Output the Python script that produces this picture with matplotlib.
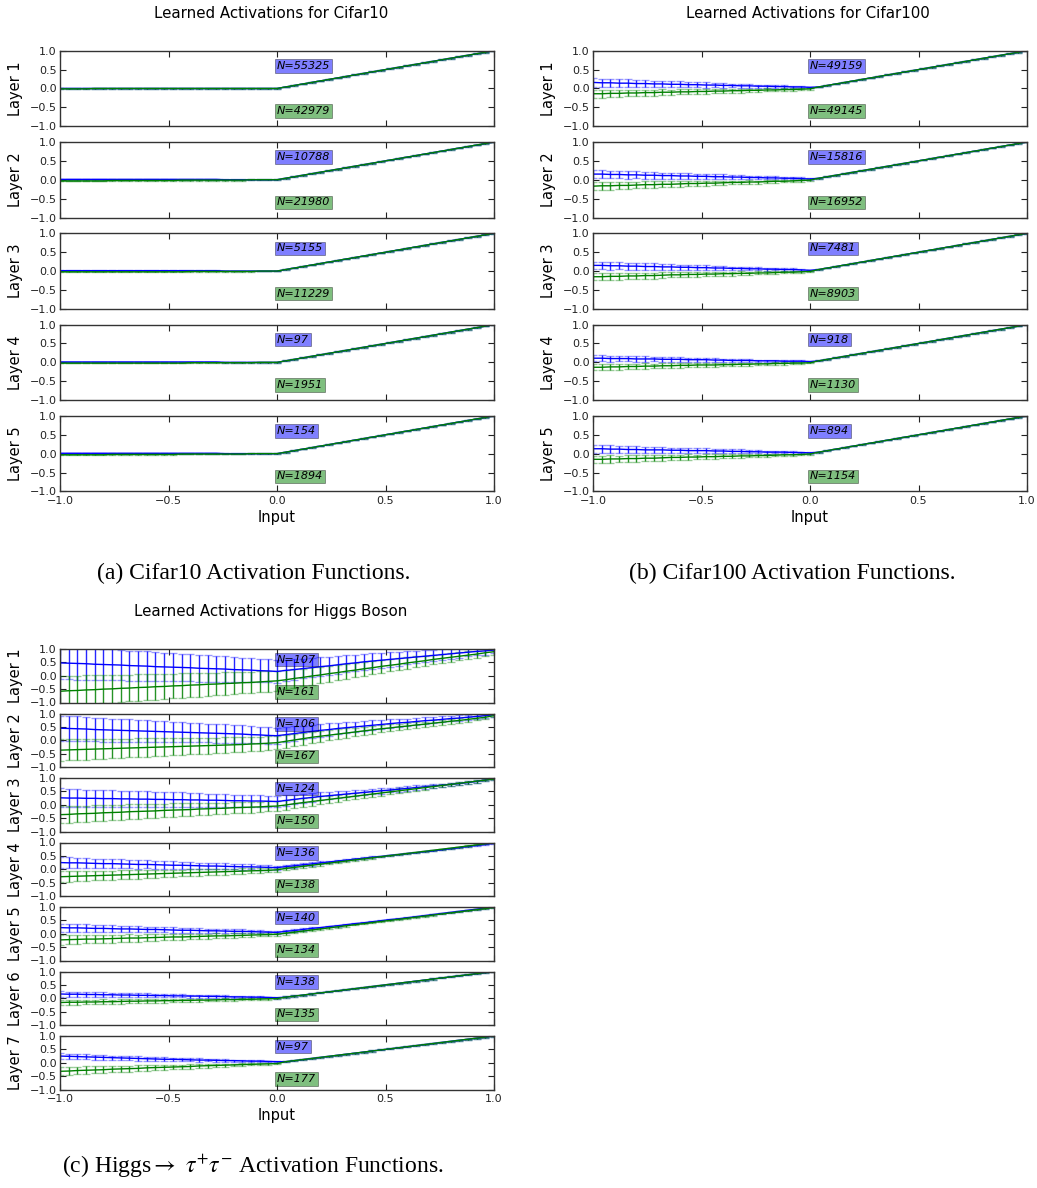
import numpy as np
import matplotlib
matplotlib.use("Agg")
import matplotlib.pyplot as plt

# ---------------- data ----------------
# sampled inputs of the learned activation functions
x_points = np.round(np.linspace(-1.0, 1.0, 51), 2)

# positive branch (identity-like part, x = 0.04 ... 1.00)
pos_branch = [0.04, 0.08, 0.12, 0.16, 0.20, 0.24, 0.28, 0.32, 0.36, 0.40, 0.44, 0.48, 0.52,
              0.56, 0.60, 0.64, 0.68, 0.72, 0.76, 0.80, 0.84, 0.88, 0.92, 0.96, 1.00]

y_ticks = [-1.0, -0.5, 0.0, 0.5, 1.0]
x_ticks = [-1.0, -0.5, 0.0, 0.5, 1.0]

# ---- Cifar10 ----
cifar10_n_blue = [55325, 10788, 5155, 97, 154]
cifar10_n_green = [42979, 21980, 11229, 1951, 1894]
cifar10_err = 0.01
cifar10_blue_neg = [
    [0.00, 0.00, 0.00, 0.00, 0.00, 0.00, 0.00, 0.00, 0.00, 0.00, 0.00, 0.00, 0.00,
     0.00, 0.00, 0.00, 0.00, 0.00, 0.00, 0.00, 0.00, 0.00, 0.00, 0.00, 0.00, 0.00],
    [0.01, 0.01, 0.01, 0.01, 0.01, 0.01, 0.01, 0.01, 0.01, 0.01, 0.01, 0.01, 0.01,
     0.01, 0.01, 0.01, 0.01, 0.01, 0.01, 0.00, 0.00, 0.00, 0.00, 0.00, 0.00, 0.00],
    [0.01, 0.01, 0.01, 0.01, 0.01, 0.01, 0.01, 0.01, 0.01, 0.01, 0.01, 0.01, 0.01,
     0.01, 0.01, 0.01, 0.01, 0.01, 0.01, 0.00, 0.00, 0.00, 0.00, 0.00, 0.00, 0.00],
    [0.01, 0.01, 0.01, 0.01, 0.01, 0.01, 0.01, 0.01, 0.01, 0.01, 0.01, 0.01, 0.01,
     0.01, 0.01, 0.01, 0.01, 0.01, 0.01, 0.00, 0.00, 0.00, 0.00, 0.00, 0.00, 0.00],
    [0.01, 0.01, 0.01, 0.01, 0.01, 0.01, 0.01, 0.01, 0.01, 0.01, 0.01, 0.01, 0.01,
     0.01, 0.01, 0.01, 0.01, 0.01, 0.01, 0.00, 0.00, 0.00, 0.00, 0.00, 0.00, 0.00],
]
cifar10_green_neg = [
    [-0.01, -0.01, -0.01, -0.01, 0.00, 0.00, 0.00, 0.00, 0.00, 0.00, 0.00, 0.00, 0.00,
     0.00, 0.00, 0.00, 0.00, 0.00, 0.00, 0.00, 0.00, 0.00, 0.00, 0.00, 0.00, 0.00],
    [-0.03, -0.03, -0.03, -0.03, -0.03, -0.03, -0.02, -0.02, -0.02, -0.02, -0.02, -0.02, -0.02,
     -0.02, -0.01, -0.01, -0.01, -0.01, -0.01, -0.01, -0.01, -0.01, 0.00, 0.00, 0.00, 0.00],
    [-0.02, -0.02, -0.02, -0.02, -0.02, -0.02, -0.02, -0.02, -0.02, -0.02, -0.02, -0.02, -0.02,
     -0.02, -0.02, -0.01, -0.01, -0.01, -0.01, -0.01, -0.01, -0.01, -0.01, 0.00, 0.00, 0.00],
    [-0.02, -0.02, -0.02, -0.02, -0.02, -0.02, -0.02, -0.02, -0.02, -0.02, -0.02, -0.02, -0.02,
     -0.02, -0.02, -0.01, -0.01, -0.01, -0.01, -0.01, -0.01, -0.01, -0.01, 0.00, 0.00, 0.00],
    [-0.03, -0.03, -0.03, -0.03, -0.03, -0.03, -0.02, -0.02, -0.02, -0.02, -0.02, -0.02, -0.02,
     -0.02, -0.01, -0.01, -0.01, -0.01, -0.01, -0.01, -0.01, -0.01, 0.00, 0.00, 0.00, 0.00],
]

# ---- Cifar100 ----
cifar100_n_blue = [49159, 15816, 7481, 918, 894]
cifar100_n_green = [49145, 16952, 8903, 1130, 1154]
cifar100_err_pos = 0.01
cifar100_blue_neg = [
    [0.16, 0.15, 0.15, 0.14, 0.14, 0.13, 0.13, 0.12, 0.12, 0.11, 0.11, 0.10, 0.10,
     0.09, 0.09, 0.08, 0.08, 0.07, 0.07, 0.06, 0.06, 0.05, 0.05, 0.04, 0.04, 0.03],
    [0.15, 0.15, 0.14, 0.14, 0.13, 0.13, 0.12, 0.12, 0.11, 0.11, 0.10, 0.10, 0.09,
     0.09, 0.08, 0.08, 0.07, 0.07, 0.06, 0.06, 0.05, 0.05, 0.04, 0.04, 0.03, 0.02],
    [0.15, 0.15, 0.14, 0.14, 0.13, 0.13, 0.12, 0.12, 0.11, 0.11, 0.10, 0.10, 0.09,
     0.09, 0.08, 0.08, 0.07, 0.07, 0.06, 0.06, 0.05, 0.05, 0.04, 0.04, 0.03, 0.02],
    [0.11, 0.11, 0.10, 0.10, 0.10, 0.09, 0.09, 0.09, 0.08, 0.08, 0.08, 0.07, 0.07,
     0.07, 0.06, 0.06, 0.05, 0.05, 0.05, 0.04, 0.04, 0.04, 0.03, 0.03, 0.03, 0.02],
    [0.13, 0.13, 0.12, 0.12, 0.11, 0.11, 0.10, 0.10, 0.10, 0.09, 0.09, 0.08, 0.08,
     0.08, 0.07, 0.07, 0.06, 0.06, 0.05, 0.05, 0.04, 0.04, 0.04, 0.03, 0.03, 0.02],
]
cifar100_green_neg = [
    [-0.14, -0.14, -0.13, -0.13, -0.12, -0.12, -0.11, -0.11, -0.10, -0.10, -0.09, -0.09, -0.08,
     -0.08, -0.07, -0.07, -0.06, -0.06, -0.05, -0.05, -0.04, -0.04, -0.03, -0.03, -0.02, -0.01],
    [-0.17, -0.16, -0.16, -0.15, -0.15, -0.14, -0.13, -0.13, -0.12, -0.12, -0.11, -0.10, -0.10,
     -0.09, -0.09, -0.08, -0.07, -0.07, -0.06, -0.06, -0.05, -0.04, -0.04, -0.03, -0.02, -0.01],
    [-0.15, -0.15, -0.14, -0.14, -0.13, -0.13, -0.12, -0.12, -0.11, -0.10, -0.10, -0.09, -0.09,
     -0.08, -0.08, -0.07, -0.07, -0.06, -0.06, -0.05, -0.05, -0.04, -0.03, -0.03, -0.02, -0.01],
    [-0.13, -0.13, -0.12, -0.12, -0.11, -0.11, -0.10, -0.10, -0.09, -0.09, -0.08, -0.08, -0.07,
     -0.07, -0.07, -0.06, -0.06, -0.05, -0.05, -0.04, -0.04, -0.03, -0.03, -0.02, -0.02, -0.01],
    [-0.15, -0.15, -0.14, -0.14, -0.13, -0.13, -0.12, -0.12, -0.11, -0.10, -0.10, -0.09, -0.09,
     -0.08, -0.08, -0.07, -0.07, -0.06, -0.06, -0.05, -0.05, -0.04, -0.03, -0.03, -0.02, -0.01],
]
cifar100_blue_err_neg = [
    [0.11, 0.11, 0.10, 0.10, 0.10, 0.09, 0.09, 0.09, 0.08, 0.08, 0.08, 0.07, 0.07,
     0.07, 0.06, 0.06, 0.05, 0.05, 0.05, 0.04, 0.04, 0.04, 0.03, 0.03, 0.03, 0.02],
    [0.11, 0.11, 0.10, 0.10, 0.10, 0.09, 0.09, 0.09, 0.08, 0.08, 0.08, 0.07, 0.07,
     0.07, 0.06, 0.06, 0.05, 0.05, 0.05, 0.04, 0.04, 0.04, 0.03, 0.03, 0.03, 0.02],
    [0.10, 0.10, 0.10, 0.09, 0.09, 0.09, 0.08, 0.08, 0.08, 0.07, 0.07, 0.07, 0.06,
     0.06, 0.06, 0.05, 0.05, 0.05, 0.04, 0.04, 0.04, 0.03, 0.03, 0.03, 0.02, 0.02],
    [0.08, 0.08, 0.08, 0.07, 0.07, 0.07, 0.07, 0.06, 0.06, 0.06, 0.06, 0.05, 0.05,
     0.05, 0.05, 0.04, 0.04, 0.04, 0.04, 0.03, 0.03, 0.03, 0.03, 0.02, 0.02, 0.02],
    [0.10, 0.10, 0.10, 0.09, 0.09, 0.09, 0.08, 0.08, 0.08, 0.07, 0.07, 0.07, 0.06,
     0.06, 0.06, 0.05, 0.05, 0.05, 0.04, 0.04, 0.04, 0.03, 0.03, 0.03, 0.02, 0.02],
]
cifar100_green_err_neg = [
    [0.10, 0.10, 0.10, 0.09, 0.09, 0.09, 0.08, 0.08, 0.08, 0.07, 0.07, 0.07, 0.06,
     0.06, 0.06, 0.05, 0.05, 0.05, 0.04, 0.04, 0.04, 0.03, 0.03, 0.03, 0.02, 0.02],
    [0.11, 0.11, 0.10, 0.10, 0.10, 0.09, 0.09, 0.09, 0.08, 0.08, 0.08, 0.07, 0.07,
     0.07, 0.06, 0.06, 0.05, 0.05, 0.05, 0.04, 0.04, 0.04, 0.03, 0.03, 0.03, 0.02],
    [0.10, 0.10, 0.10, 0.09, 0.09, 0.09, 0.08, 0.08, 0.08, 0.07, 0.07, 0.07, 0.06,
     0.06, 0.06, 0.05, 0.05, 0.05, 0.04, 0.04, 0.04, 0.03, 0.03, 0.03, 0.02, 0.02],
    [0.08, 0.08, 0.08, 0.07, 0.07, 0.07, 0.07, 0.06, 0.06, 0.06, 0.06, 0.05, 0.05,
     0.05, 0.05, 0.04, 0.04, 0.04, 0.04, 0.03, 0.03, 0.03, 0.03, 0.02, 0.02, 0.02],
    [0.10, 0.10, 0.10, 0.09, 0.09, 0.09, 0.08, 0.08, 0.08, 0.07, 0.07, 0.07, 0.06,
     0.06, 0.06, 0.05, 0.05, 0.05, 0.04, 0.04, 0.04, 0.03, 0.03, 0.03, 0.02, 0.02],
]

# ---- Higgs Boson ----
higgs_n_blue = [107, 106, 124, 136, 140, 138, 97]
higgs_n_green = [161, 167, 150, 138, 134, 135, 177]
higgs_blue_neg = [
    [0.48, 0.47, 0.46, 0.45, 0.43, 0.42, 0.41, 0.40, 0.38, 0.37, 0.36, 0.34, 0.33,
     0.32, 0.31, 0.30, 0.28, 0.27, 0.26, 0.25, 0.23, 0.22, 0.21, 0.19, 0.18, 0.16],
    [0.45, 0.44, 0.43, 0.42, 0.40, 0.39, 0.38, 0.37, 0.36, 0.35, 0.34, 0.33, 0.32,
     0.31, 0.30, 0.29, 0.28, 0.27, 0.26, 0.25, 0.24, 0.23, 0.21, 0.20, 0.18, 0.17],
    [0.26, 0.25, 0.25, 0.24, 0.24, 0.23, 0.23, 0.22, 0.22, 0.21, 0.21, 0.20, 0.20,
     0.19, 0.19, 0.18, 0.18, 0.17, 0.17, 0.16, 0.15, 0.15, 0.14, 0.14, 0.13, 0.12],
    [0.25, 0.24, 0.24, 0.23, 0.22, 0.21, 0.21, 0.20, 0.19, 0.18, 0.18, 0.17, 0.16,
     0.15, 0.15, 0.14, 0.13, 0.12, 0.12, 0.11, 0.10, 0.09, 0.09, 0.08, 0.07, 0.06],
    [0.23, 0.22, 0.22, 0.21, 0.20, 0.20, 0.19, 0.18, 0.18, 0.17, 0.16, 0.16, 0.15,
     0.14, 0.13, 0.13, 0.12, 0.11, 0.11, 0.10, 0.09, 0.09, 0.08, 0.07, 0.06, 0.05],
    [0.16, 0.15, 0.15, 0.14, 0.14, 0.13, 0.13, 0.12, 0.12, 0.11, 0.11, 0.10, 0.10,
     0.09, 0.09, 0.08, 0.08, 0.07, 0.07, 0.06, 0.05, 0.05, 0.04, 0.04, 0.03, 0.02],
    [0.25, 0.24, 0.23, 0.22, 0.21, 0.20, 0.19, 0.18, 0.17, 0.16, 0.15, 0.14, 0.13,
     0.13, 0.12, 0.11, 0.10, 0.10, 0.09, 0.08, 0.08, 0.07, 0.06, 0.06, 0.05, 0.04],
]
higgs_blue_pos = [
    [0.20, 0.23, 0.27, 0.30, 0.34, 0.37, 0.41, 0.45, 0.48, 0.52, 0.55, 0.58, 0.61,
     0.64, 0.67, 0.70, 0.73, 0.76, 0.79, 0.82, 0.85, 0.88, 0.91, 0.93, 0.96],
    [0.21, 0.25, 0.29, 0.33, 0.37, 0.40, 0.44, 0.47, 0.50, 0.53, 0.56, 0.59, 0.62,
     0.65, 0.67, 0.70, 0.73, 0.75, 0.78, 0.81, 0.83, 0.86, 0.89, 0.92, 0.95],
    [0.16, 0.20, 0.24, 0.27, 0.31, 0.34, 0.37, 0.40, 0.43, 0.46, 0.49, 0.52, 0.55,
     0.58, 0.61, 0.64, 0.67, 0.70, 0.73, 0.76, 0.79, 0.83, 0.87, 0.92, 0.97],
    [0.10, 0.13, 0.17, 0.20, 0.24, 0.27, 0.31, 0.34, 0.38, 0.41, 0.45, 0.48, 0.52,
     0.55, 0.59, 0.62, 0.66, 0.69, 0.73, 0.77, 0.81, 0.85, 0.89, 0.93, 0.97],
    [0.09, 0.12, 0.16, 0.20, 0.23, 0.27, 0.30, 0.34, 0.38, 0.41, 0.45, 0.49, 0.53,
     0.56, 0.60, 0.64, 0.68, 0.72, 0.76, 0.80, 0.84, 0.88, 0.92, 0.96, 1.00],
    pos_branch,
    pos_branch,
]
higgs_green_neg = [
    [-0.58, -0.56, -0.55, -0.53, -0.52, -0.50, -0.49, -0.47, -0.46, -0.44, -0.43, -0.41, -0.40,
     -0.38, -0.37, -0.35, -0.34, -0.32, -0.31, -0.29, -0.28, -0.26, -0.25, -0.23, -0.21, -0.19],
    [-0.37, -0.36, -0.35, -0.34, -0.33, -0.32, -0.31, -0.30, -0.29, -0.28, -0.27, -0.26, -0.25,
     -0.24, -0.23, -0.22, -0.21, -0.20, -0.19, -0.18, -0.17, -0.16, -0.14, -0.13, -0.11, -0.09],
    [-0.37, -0.36, -0.34, -0.33, -0.32, -0.30, -0.29, -0.28, -0.26, -0.25, -0.24, -0.23, -0.21,
     -0.20, -0.19, -0.18, -0.16, -0.15, -0.14, -0.13, -0.11, -0.10, -0.09, -0.08, -0.06, -0.05],
    [-0.28, -0.27, -0.26, -0.25, -0.24, -0.23, -0.22, -0.21, -0.20, -0.19, -0.18, -0.17, -0.16,
     -0.15, -0.14, -0.13, -0.12, -0.11, -0.10, -0.09, -0.08, -0.07, -0.06, -0.05, -0.04, -0.02],
    [-0.23, -0.22, -0.21, -0.20, -0.20, -0.19, -0.18, -0.17, -0.16, -0.16, -0.15, -0.14, -0.13,
     -0.12, -0.12, -0.11, -0.10, -0.09, -0.08, -0.08, -0.07, -0.06, -0.05, -0.04, -0.03, -0.02],
    [-0.16, -0.15, -0.15, -0.14, -0.14, -0.13, -0.13, -0.12, -0.11, -0.11, -0.10, -0.10, -0.09,
     -0.09, -0.08, -0.08, -0.07, -0.07, -0.06, -0.05, -0.05, -0.04, -0.04, -0.03, -0.02, -0.01],
    [-0.32, -0.31, -0.29, -0.28, -0.27, -0.26, -0.24, -0.23, -0.22, -0.21, -0.19, -0.18, -0.17,
     -0.16, -0.15, -0.14, -0.12, -0.11, -0.10, -0.09, -0.08, -0.07, -0.06, -0.05, -0.04, -0.03],
]
higgs_green_pos = [
    [-0.15, -0.10, -0.06, -0.01, 0.03, 0.08, 0.12, 0.17, 0.21, 0.26, 0.30, 0.35, 0.39,
     0.43, 0.48, 0.52, 0.56, 0.61, 0.65, 0.69, 0.73, 0.77, 0.81, 0.86, 0.90],
    [-0.04, 0.01, 0.06, 0.11, 0.15, 0.19, 0.23, 0.27, 0.31, 0.35, 0.39, 0.43, 0.46,
     0.50, 0.53, 0.57, 0.60, 0.64, 0.67, 0.71, 0.74, 0.78, 0.82, 0.86, 0.92],
    [-0.01, 0.04, 0.08, 0.12, 0.16, 0.20, 0.24, 0.28, 0.32, 0.36, 0.40, 0.44, 0.48,
     0.52, 0.56, 0.60, 0.64, 0.68, 0.72, 0.76, 0.80, 0.84, 0.88, 0.92, 0.96],
    [0.03, 0.07, 0.11, 0.15, 0.19, 0.23, 0.27, 0.31, 0.35, 0.39, 0.43, 0.47, 0.51,
     0.55, 0.59, 0.63, 0.67, 0.71, 0.75, 0.79, 0.83, 0.87, 0.91, 0.95, 0.99],
    [0.02, 0.06, 0.10, 0.14, 0.18, 0.22, 0.26, 0.30, 0.34, 0.38, 0.42, 0.46, 0.50,
     0.54, 0.58, 0.62, 0.66, 0.70, 0.74, 0.78, 0.82, 0.86, 0.90, 0.94, 0.98],
    pos_branch,
    pos_branch,
]
higgs_blue_err_neg = [
    [0.62, 0.61, 0.61, 0.60, 0.59, 0.58, 0.58, 0.57, 0.56, 0.55, 0.55, 0.54, 0.53,
     0.52, 0.52, 0.51, 0.50, 0.49, 0.48, 0.48, 0.47, 0.46, 0.45, 0.44, 0.43, 0.42],
    [0.47, 0.46, 0.46, 0.45, 0.44, 0.44, 0.43, 0.42, 0.42, 0.41, 0.40, 0.40, 0.39,
     0.38, 0.37, 0.37, 0.36, 0.35, 0.35, 0.34, 0.33, 0.33, 0.32, 0.31, 0.31, 0.30],
    [0.35, 0.34, 0.34, 0.33, 0.33, 0.32, 0.31, 0.31, 0.30, 0.30, 0.29, 0.28, 0.28,
     0.27, 0.27, 0.26, 0.25, 0.25, 0.24, 0.24, 0.23, 0.22, 0.22, 0.21, 0.21, 0.20],
    [0.20, 0.20, 0.19, 0.19, 0.18, 0.18, 0.17, 0.17, 0.16, 0.16, 0.15, 0.15, 0.14,
     0.14, 0.13, 0.13, 0.12, 0.12, 0.11, 0.11, 0.10, 0.10, 0.09, 0.09, 0.08, 0.08],
    [0.15, 0.15, 0.14, 0.14, 0.14, 0.13, 0.13, 0.12, 0.12, 0.12, 0.11, 0.11, 0.10,
     0.10, 0.10, 0.09, 0.09, 0.08, 0.08, 0.08, 0.07, 0.07, 0.06, 0.06, 0.06, 0.05],
    [0.10, 0.10, 0.10, 0.09, 0.09, 0.09, 0.08, 0.08, 0.08, 0.08, 0.07, 0.07, 0.07,
     0.06, 0.06, 0.06, 0.06, 0.05, 0.05, 0.05, 0.04, 0.04, 0.04, 0.04, 0.03, 0.03],
    [0.10, 0.10, 0.10, 0.09, 0.09, 0.09, 0.08, 0.08, 0.08, 0.08, 0.07, 0.07, 0.07,
     0.06, 0.06, 0.06, 0.06, 0.05, 0.05, 0.05, 0.04, 0.04, 0.04, 0.04, 0.03, 0.03],
]
higgs_green_err_neg = [
    [0.56, 0.55, 0.55, 0.54, 0.53, 0.52, 0.52, 0.51, 0.50, 0.49, 0.49, 0.48, 0.47,
     0.46, 0.46, 0.45, 0.44, 0.43, 0.42, 0.42, 0.41, 0.40, 0.39, 0.39, 0.38, 0.37],
    [0.40, 0.39, 0.39, 0.38, 0.38, 0.37, 0.36, 0.36, 0.35, 0.35, 0.34, 0.33, 0.33,
     0.32, 0.32, 0.31, 0.30, 0.30, 0.29, 0.29, 0.28, 0.27, 0.27, 0.26, 0.26, 0.25],
    [0.32, 0.31, 0.31, 0.30, 0.30, 0.29, 0.29, 0.28, 0.27, 0.27, 0.26, 0.26, 0.25,
     0.25, 0.24, 0.24, 0.23, 0.22, 0.22, 0.21, 0.21, 0.20, 0.20, 0.19, 0.19, 0.18],
    [0.20, 0.20, 0.19, 0.19, 0.18, 0.18, 0.17, 0.17, 0.16, 0.16, 0.15, 0.15, 0.14,
     0.14, 0.13, 0.13, 0.12, 0.12, 0.11, 0.11, 0.10, 0.10, 0.09, 0.09, 0.08, 0.08],
    [0.18, 0.17, 0.17, 0.16, 0.16, 0.15, 0.15, 0.14, 0.14, 0.13, 0.13, 0.12, 0.12,
     0.11, 0.11, 0.10, 0.10, 0.09, 0.09, 0.08, 0.08, 0.07, 0.07, 0.06, 0.06, 0.05],
    [0.10, 0.10, 0.10, 0.09, 0.09, 0.09, 0.08, 0.08, 0.08, 0.08, 0.07, 0.07, 0.07,
     0.06, 0.06, 0.06, 0.06, 0.05, 0.05, 0.05, 0.04, 0.04, 0.04, 0.04, 0.03, 0.03],
    [0.15, 0.15, 0.14, 0.14, 0.13, 0.13, 0.12, 0.12, 0.11, 0.11, 0.10, 0.10, 0.09,
     0.09, 0.08, 0.08, 0.07, 0.07, 0.06, 0.06, 0.05, 0.05, 0.04, 0.04, 0.03, 0.03],
]
higgs_blue_err_pos = [
    [0.39, 0.38, 0.37, 0.36, 0.35, 0.34, 0.33, 0.32, 0.31, 0.30, 0.29, 0.28, 0.27,
     0.26, 0.24, 0.23, 0.22, 0.21, 0.20, 0.19, 0.18, 0.16, 0.15, 0.14, 0.12],
    [0.28, 0.27, 0.26, 0.25, 0.24, 0.23, 0.22, 0.21, 0.20, 0.19, 0.18, 0.17, 0.16,
     0.15, 0.14, 0.14, 0.13, 0.12, 0.11, 0.10, 0.10, 0.09, 0.08, 0.08, 0.07],
    [0.19, 0.18, 0.17, 0.16, 0.15, 0.14, 0.13, 0.12, 0.11, 0.11, 0.10, 0.10, 0.09,
     0.09, 0.08, 0.08, 0.07, 0.07, 0.06, 0.06, 0.06, 0.05, 0.05, 0.05, 0.04],
    [0.07, 0.07, 0.06, 0.06, 0.05, 0.05, 0.05, 0.04, 0.04, 0.04, 0.04, 0.03, 0.03,
     0.03, 0.03, 0.03, 0.02, 0.02, 0.02, 0.02, 0.02, 0.02, 0.02, 0.02, 0.02],
    [0.05, 0.04, 0.04, 0.04, 0.03, 0.03, 0.03, 0.03, 0.02, 0.02, 0.02, 0.02, 0.02,
     0.02, 0.02, 0.02, 0.02, 0.02, 0.02, 0.02, 0.02, 0.02, 0.02, 0.02, 0.02],
    [0.03, 0.03, 0.02, 0.02, 0.02, 0.02, 0.02, 0.02, 0.02, 0.02, 0.02, 0.02, 0.02,
     0.02, 0.02, 0.02, 0.02, 0.02, 0.02, 0.02, 0.02, 0.02, 0.02, 0.02, 0.02],
    [0.03, 0.03, 0.02, 0.02, 0.02, 0.02, 0.02, 0.02, 0.02, 0.02, 0.02, 0.02, 0.02,
     0.02, 0.02, 0.02, 0.02, 0.02, 0.02, 0.02, 0.02, 0.02, 0.02, 0.02, 0.02],
]
higgs_green_err_pos = [
    [0.35, 0.34, 0.33, 0.32, 0.31, 0.30, 0.29, 0.28, 0.27, 0.26, 0.25, 0.24, 0.23,
     0.22, 0.21, 0.20, 0.19, 0.18, 0.17, 0.16, 0.15, 0.14, 0.13, 0.13, 0.12],
    [0.24, 0.23, 0.22, 0.21, 0.20, 0.19, 0.18, 0.17, 0.16, 0.15, 0.14, 0.14, 0.13,
     0.12, 0.11, 0.11, 0.10, 0.10, 0.09, 0.09, 0.08, 0.08, 0.07, 0.07, 0.06],
    [0.19, 0.18, 0.17, 0.16, 0.15, 0.14, 0.13, 0.12, 0.11, 0.11, 0.10, 0.10, 0.09,
     0.09, 0.08, 0.08, 0.07, 0.07, 0.06, 0.06, 0.06, 0.05, 0.05, 0.05, 0.04],
    [0.07, 0.07, 0.06, 0.06, 0.05, 0.05, 0.05, 0.04, 0.04, 0.04, 0.04, 0.03, 0.03,
     0.03, 0.03, 0.03, 0.02, 0.02, 0.02, 0.02, 0.02, 0.02, 0.02, 0.02, 0.02],
    [0.05, 0.04, 0.04, 0.04, 0.03, 0.03, 0.03, 0.03, 0.02, 0.02, 0.02, 0.02, 0.02,
     0.02, 0.02, 0.02, 0.02, 0.02, 0.02, 0.02, 0.02, 0.02, 0.02, 0.02, 0.02],
    [0.03, 0.03, 0.02, 0.02, 0.02, 0.02, 0.02, 0.02, 0.02, 0.02, 0.02, 0.02, 0.02,
     0.02, 0.02, 0.02, 0.02, 0.02, 0.02, 0.02, 0.02, 0.02, 0.02, 0.02, 0.02],
    [0.03, 0.03, 0.02, 0.02, 0.02, 0.02, 0.02, 0.02, 0.02, 0.02, 0.02, 0.02, 0.02,
     0.02, 0.02, 0.02, 0.02, 0.02, 0.02, 0.02, 0.02, 0.02, 0.02, 0.02, 0.02],
]

panel_titles = ["Learned Activations for Cifar10", "Learned Activations for Cifar100",
                "Learned Activations for Higgs Boson"]
captions = ["(a) Cifar10 Activation Functions.", "(b) Cifar100 Activation Functions.",
            r"(c) Higgs$\rightarrow$ $\tau^{+}\tau^{-}$ Activation Functions."]

# ---------------- drawing ----------------
W, H = 1037, 1188
plt.rcParams['font.family'] = ['DejaVu Sans']
plt.rcParams['mathtext.fontset'] = 'stix'
fig = plt.figure(figsize=(W / 100, H / 100), dpi=100)
fig.patch.set_facecolor('white')


def rect(left, top, w, h):
    return [left / W, 1 - (top + h) / H, w / W, h / H]


def draw_series(ax, y, e, color):
    line, caps, bars = ax.errorbar(x_points, y, yerr=e, color=color, ecolor=color, lw=1.0,
                                   elinewidth=1.0, capsize=3.0, capthick=1.0, zorder=2)
    for c in caps:
        c.set_alpha(0.4)
    for b in bars:
        b.set_alpha(0.85)


def style_axis(ax, label, bottom, xlabel_off):
    ax.set_xlim(-1, 1)
    ax.set_ylim(-1, 1)
    ax.set_yticks(y_ticks)
    ax.set_xticks(x_ticks)
    ax.tick_params(direction='in', length=4, width=0.8, top=True, right=True,
                   labelsize=8, colors='#222222', pad=2.5)
    ax.tick_params(axis='x', pad=3.5)
    for s in ax.spines.values():
        s.set_linewidth(1.0)
        s.set_color('#333333')
    ax.set_ylabel(label, fontsize=10.5)
    ax.yaxis.set_label_coords(-0.085, 0.5)
    if bottom:
        ax.set_xlabel("Input", fontsize=10.5)
        ax.xaxis.set_label_coords(0.5, xlabel_off)
    else:
        ax.tick_params(labelbottom=False)


def add_counts(ax, nb, ng):
    ax.text(0.0, 0.6, f"N={nb}", style='italic', fontsize=8, ha='left', va='center', zorder=5,
            bbox=dict(facecolor='blue', alpha=0.5, edgecolor='black', lw=0.5, pad=1.3))
    ax.text(0.0, -0.6, f"N={ng}", style='italic', fontsize=8, ha='left', va='center', zorder=5,
            bbox=dict(facecolor='green', alpha=0.5, edgecolor='black', lw=0.5, pad=1.3))


# panel (a) Cifar10
for i in range(5):
    ax = fig.add_axes(rect(60, 50.7 + i * 91.3, 434, 75.5))
    draw_series(ax, cifar10_blue_neg[i] + pos_branch, cifar10_err, 'b')
    draw_series(ax, cifar10_green_neg[i] + pos_branch, cifar10_err, 'g')
    add_counts(ax, cifar10_n_blue[i], cifar10_n_green[i])
    style_axis(ax, f"Layer {i + 1}", i == 4, -0.24)

# panel (b) Cifar100
for i in range(5):
    ax = fig.add_axes(rect(593, 50.7 + i * 91.3, 434, 75.5))
    draw_series(ax, cifar100_blue_neg[i] + pos_branch,
                np.array(cifar100_blue_err_neg[i] + [cifar100_err_pos] * 25), 'b')
    draw_series(ax, cifar100_green_neg[i] + pos_branch,
                np.array(cifar100_green_err_neg[i] + [cifar100_err_pos] * 25), 'g')
    add_counts(ax, cifar100_n_blue[i], cifar100_n_green[i])
    style_axis(ax, f"Layer {i + 1}", i == 4, -0.24)

# panel (c) Higgs
for i in range(7):
    ax = fig.add_axes(rect(60, 649 + i * 64.5, 434, 53.5))
    draw_series(ax, higgs_blue_neg[i] + higgs_blue_pos[i],
                np.array(higgs_blue_err_neg[i] + higgs_blue_err_pos[i]), 'b')
    draw_series(ax, higgs_green_neg[i] + higgs_green_pos[i],
                np.array(higgs_green_err_neg[i] + higgs_green_err_pos[i]), 'g')
    add_counts(ax, higgs_n_blue[i], higgs_n_green[i])
    style_axis(ax, f"Layer {i + 1}", i == 6, -0.34)

# titles
fig.text(271 / W, 1 - 14 / H, panel_titles[0], ha='center', va='center', fontsize=10.8)
fig.text(808 / W, 1 - 14 / H, panel_titles[1], ha='center', va='center', fontsize=10.8)
fig.text(271 / W, 1 - 611.5 / H, panel_titles[2], ha='center', va='center', fontsize=10.8)

# captions
fig.text(254 / W, 1 - 573 / H, captions[0], ha='center', va='center', fontsize=17,
         family='Liberation Serif')
fig.text(792 / W, 1 - 573 / H, captions[1], ha='center', va='center', fontsize=17,
         family='Liberation Serif')
fig.text(253 / W, 1 - 1166 / H, captions[2], ha='center', va='center', fontsize=17,
         family='Liberation Serif')

fig.savefig("out.png", dpi=100, facecolor='white')
